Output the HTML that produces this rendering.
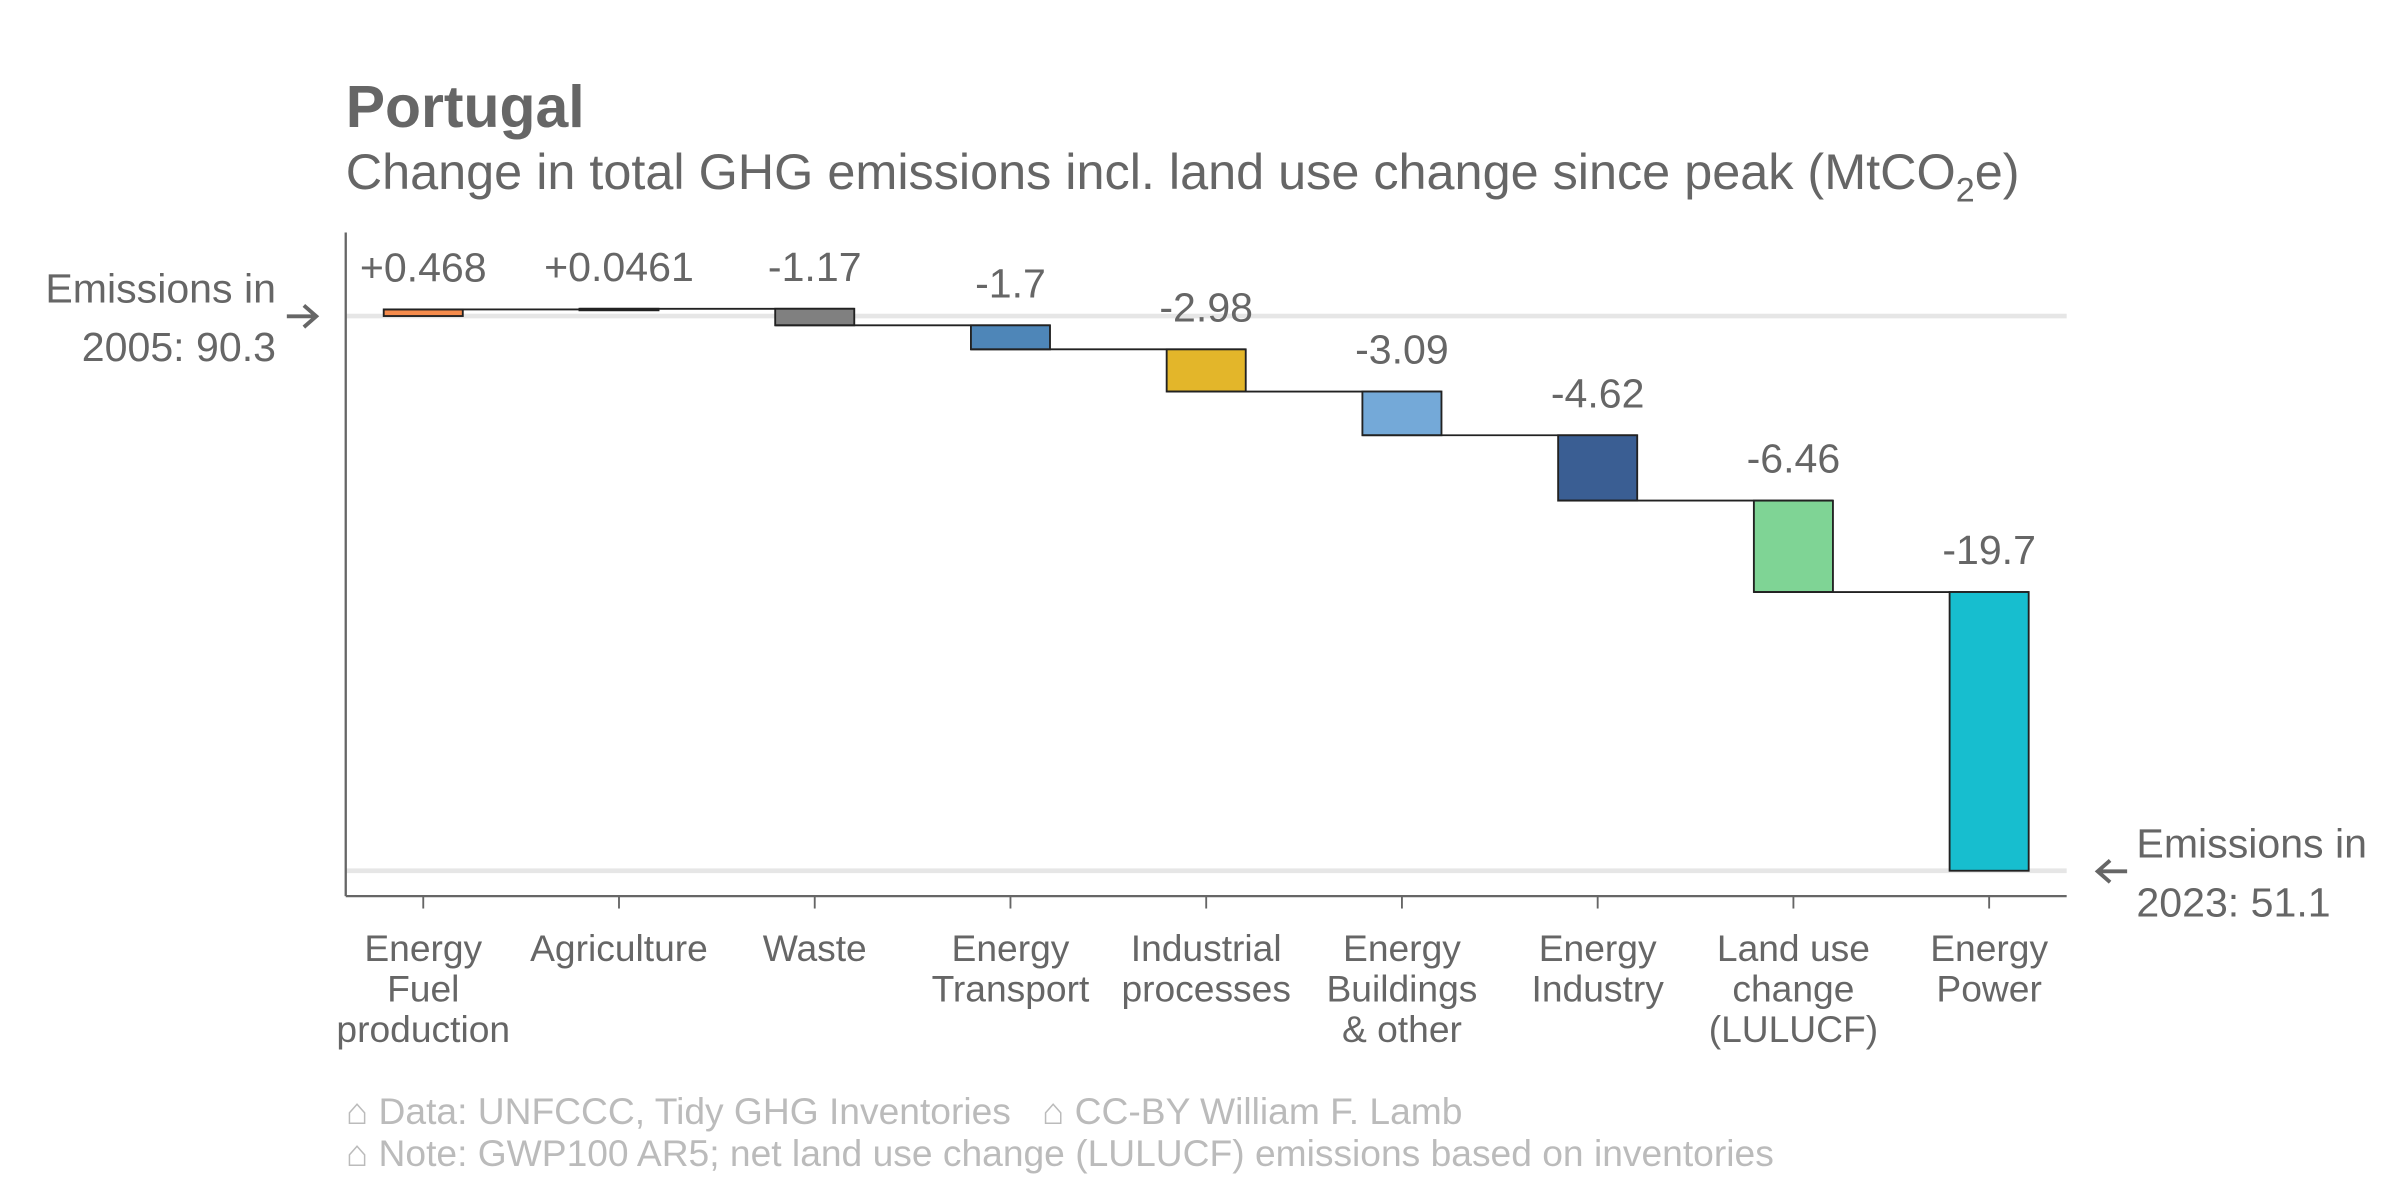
<!DOCTYPE html>
<html><head><meta charset="utf-8"><style>
html,body{margin:0;padding:0;background:#fff}
svg{display:block;font-family:"Liberation Sans",Arial,sans-serif}
</style></head><body>
<svg id="chart" width="2400" height="1200" viewBox="0 0 1548 774" xmlns="http://www.w3.org/2000/svg">
<text x="223" y="82" font-size="38" font-weight="bold" fill="#666">Portugal</text>
<text x="223" y="122" font-size="32.5" fill="#666">Change in total GHG emissions incl. land use change since peak (MtCO<tspan font-size="22" dy="8">2</tspan><tspan dy="-8">e)</tspan></text>
<g id="plot"></g>
<g fill="#666" font-size="26.5">
<text x="178" y="195" text-anchor="end">Emissions in</text>
<text x="178" y="233" text-anchor="end">2005: 90.3</text>
</g>
<path d="M185 204 H204 M196 197 L204 204 L196 211" stroke="#666" stroke-width="2.5" fill="none"/>
<g fill="#666" font-size="26.5">
<text x="1378" y="553">Emissions in</text>
<text x="1378" y="591">2023: 51.1</text>
</g>
<path d="M1372 562 H1353 M1361 555 L1353 562 L1361 569" stroke="#666" stroke-width="2.5" fill="none"/>
<g fill="#bbb" font-size="24">
<text x="223" y="725">⌂ Data: UNFCCC, Tidy GHG Inventories &#160;&#160;⌂ CC-BY William F. Lamb</text>
<text x="223" y="752">⌂ Note: GWP100 AR5; net land use change (LULUCF) emissions based on inventories</text>
</g>
</svg>
<script>
const startValue = 90.3;
const categories = [["Energy","Fuel","production"],["Agriculture"],["Waste"],["Energy","Transport"],["Industrial","processes"],["Energy","Buildings","& other"],["Energy","Industry"],["Land use","change","(LULUCF)"],["Energy","Power"]];
const deltas = [0.468, 0.0461, -1.17, -1.7, -2.98, -3.09, -4.62, -6.46, -19.7];
const valueLabels = ["+0.468","+0.0461","-1.17","-1.7","-2.98","-3.09","-4.62","-6.46","-19.7"];
const colors = ["#f58b4c","#555555","#808080","#4e86b8","#e3b62a","#74a9d8","#3a5e93","#7fd495","#17becf"];

const NS="http://www.w3.org/2000/svg";
const plot=document.getElementById('plot');
const L=223,R=1333,T=150,B=578;
const yMax=96.2,yMin=49.3;
function y(v){return T+(yMax-v)/(yMax-yMin)*(B-T);}
function x(i){return 273+i*(1283-273)/(categories.length-1);}
function mk(tag,attrs){const e=document.createElementNS(NS,tag);for(const k in attrs)e.setAttribute(k,attrs[k]);plot.appendChild(e);return e;}
const endValue=startValue+deltas.reduce((a,b)=>a+b,0);
let g=mk('line',{x1:L,x2:R,y1:y(startValue),y2:y(startValue),stroke:'#e6e6e6','stroke-width':3});


g=mk('line',{x1:L,x2:R,y1:y(endValue),y2:y(endValue),stroke:'#e6e6e6','stroke-width':3});


let ax=mk('line',{x1:L,x2:L,y1:T,y2:B,stroke:'#666','stroke-width':1.5});


ax=mk('line',{x1:L,x2:R,y1:B,y2:B,stroke:'#666','stroke-width':1.5});


const bw=51;
let cum=startValue;
deltas.forEach((d,i)=>{
  const s=cum,e=cum+d;
  const top=y(Math.max(s,e)),bot=y(Math.min(s,e));
  const cx=x(i);
  const r=mk('rect',{x:cx-bw/2,y:top,width:bw,height:Math.max(bot-top,1),fill:colors[i],stroke:'#222','stroke-width':1.2});
  
  
  if(i<deltas.length-1){
    const c=mk('line',{x1:cx-bw/2,x2:x(i+1)+bw/2,y1:y(e),y2:y(e),stroke:'#222','stroke-width':1.2});
    
    
  }
  const t=mk('text',{x:cx,y:top-18,'text-anchor':'middle','font-size':26.5,fill:'#666'});
  t.textContent=valueLabels[i];
  
  
  const tk=mk('line',{x1:cx,x2:cx,y1:B,y2:B+8,stroke:'#666','stroke-width':1.2});
  
  
  const lab=mk('text',{x:cx,'text-anchor':'middle','font-size':24,fill:'#666'});
  
  
  categories[i].forEach((ln,j)=>{const ts=document.createElementNS(NS,'tspan');ts.setAttribute('x',cx);ts.setAttribute('y',620+j*26);ts.textContent=ln;lab.appendChild(ts);});
  cum=e;
});
</script>
</body></html>
